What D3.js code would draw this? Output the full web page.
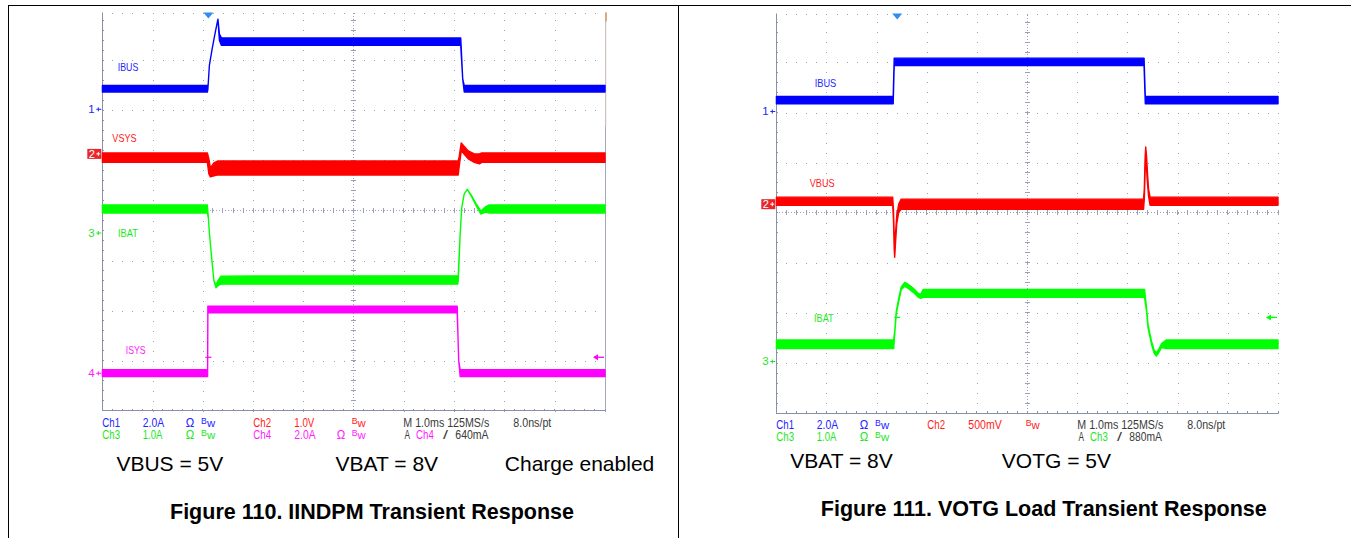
<!DOCTYPE html>
<html><head><meta charset="utf-8">
<script src="https://cdn.jsdelivr.net/npm/d3@7"></script>
<style>html,body{margin:0;padding:0;background:#fff;}svg{display:block;font-family:"Liberation Sans",Arial,Helvetica,sans-serif;}</style>
</head><body>
<svg id="c" width="1351" height="538"></svg>
<script>
// ================= DATA =================
// time axis: 10 divisions of 1.0 ms; each trace point = [time ms, envelope min, envelope max]
const timeDomain = [0, 10];

// ---- Figure 110: IINDPM transient response ----
const f110_ibus = [[0,0.69,0.95],[2.09,0.69,0.95],[2.10,0.80,0.80],[2.13,1.75,1.75],[2.18,2.35,2.35],[2.24,3.00,3.00],[2.30,3.60,3.60],[2.33,2.75,3.00],[2.37,2.55,2.85],[7.13,2.55,2.85],[7.17,1.20,1.20],[7.20,0.69,0.95],[10,0.69,0.95]];
const f110_vsys = [[0,-0.17,0.02],[2.09,-0.17,0.02],[2.12,-0.40,-0.10],[2.15,-0.46,-0.28],[2.22,-0.44,-0.18],[2.30,-0.42,-0.14],[7.08,-0.42,-0.14],[7.10,-0.25,-0.05],[7.14,0.06,0.22],[7.28,-0.10,0.06],[7.40,-0.17,0.00],[7.50,-0.20,0.00],[7.55,-0.17,0.02],[10,-0.17,0.02]];
const f110_ibat = [[0,0.40,0.56],[2.09,0.40,0.56],[2.11,0.30,0.30],[2.13,0.00,0.00],[2.18,-0.54,-0.54],[2.22,-0.95,-0.95],[2.26,-1.09,-1.04],[2.30,-1.05,-0.95],[2.36,-1.02,-0.86],[7.07,-1.02,-0.85],[7.08,-0.95,-0.85],[7.12,0.00,0.00],[7.15,0.50,0.50],[7.20,0.78,0.78],[7.26,0.87,0.87],[7.35,0.72,0.74],[7.45,0.52,0.56],[7.53,0.38,0.44],[7.62,0.42,0.52],[7.70,0.40,0.56],[10,0.40,0.56]];
const f110_isys = [[0,-0.13,0.14],[2.095,-0.13,0.14],[2.10,2.42,2.68],[7.06,2.42,2.68],[7.075,1.50,1.50],[7.09,0.50,0.50],[7.12,-0.13,0.14],[10,-0.13,0.14]];
const f110_labels = ["IBUS","VSYS","IBAT","ISYS"];
const f110_scaleText = ["2.0A","1.0V","1.0A","2.0A"];
const f110_perDiv = [2, 1, 1, 2];
const f110_markerDiv = [2.02, 1.13, -0.45, -3.25];
const f110_trigger = {time: 2.11, channel: 4, level: 0.64, text: "640mA"};
const f110_conditions = ["VBUS = 5V", "VBAT = 8V", "Charge enabled"];
const f110_title = "Figure 110. IINDPM Transient Response";

// ---- Figure 111: VOTG load transient response ----
const f111_ibus = [[0,0.31,0.60],[2.33,0.31,0.60],[2.35,1.83,2.13],[7.33,1.83,2.13],[7.355,0.31,0.60],[10,0.31,0.60]];
const f111_vbus = [[0,-0.01,0.07],[2.32,-0.01,0.07],[2.335,-0.15,-0.05],[2.35,-0.45,-0.30],[2.36,-0.53,-0.45],[2.375,-0.40,-0.30],[2.40,-0.20,-0.12],[2.44,-0.08,0.00],[2.49,-0.05,0.05],[7.32,-0.05,0.05],[7.335,0.05,0.15],[7.35,0.30,0.45],[7.363,0.50,0.57],[7.38,0.35,0.48],[7.40,0.20,0.30],[7.42,0.08,0.15],[7.45,-0.01,0.07],[10,-0.01,0.07]];
const f111_ibat = [[0,0.26,0.43],[2.34,0.26,0.43],[2.36,0.55,0.60],[2.39,0.94,0.99],[2.44,1.20,1.26],[2.49,1.43,1.49],[2.56,1.50,1.58],[2.63,1.46,1.54],[2.73,1.38,1.46],[2.83,1.28,1.36],[2.88,1.26,1.34],[2.93,1.28,1.44],[7.34,1.28,1.44],[7.38,1.00,1.06],[7.41,0.67,0.73],[7.48,0.34,0.40],[7.53,0.17,0.23],[7.575,0.11,0.17],[7.62,0.17,0.24],[7.68,0.28,0.36],[7.77,0.26,0.43],[10,0.26,0.43]];
const f111_labels = ["IBUS","VBUS","IBAT"];
const f111_scaleText = ["2.0A","500mV","1.0A"];
const f111_perDiv = [2, 0.5, 1];
const f111_markerDiv = [2.02, 0.17, -2.97];
const f111_trigger = {time: 2.41, channel: 3, level: 0.88, text: "880mA"};
const f111_conditions = ["VBAT = 8V", "VOTG = 5V"];
const f111_title = "Figure 111. VOTG Load Transient Response";

const timebaseText = "M 1.0ms 125MS/s";
const resolutionText = "8.0ns/pt";

// ================= STYLE / LAYOUT =================
const TRACE = {1:"#0000ff", 2:"#ff0000", 3:"#00ff00", 4:"#ff00ff"};
const TXT = {1:"#2424ff", 2:"#ff1c1c", 3:"#1ee61e", 4:"#ff1cff", 0:"#3a3a3a"};
const GRID = "#9aa0b8";
const COL = {ch:0, scale:40.5, ohm:83.5, bw:98.8, chB:151, scaleB:192, ohmB:234.4, bwB:249.5, time:301, res:411, trigA:302.2, trigCh:313.8, slope:340.8, trigVal:353};
const TW = {"Ch":17.7, "2.0A":21.3, "1.0A":19.7, "1.0V":20, "500mV":33.4, "Ω":8.5, "Bw":14, "A":5.5, "/":5, "640mA":33.3, "880mA":32.6};
TW[timebaseText] = 86; TW[resolutionText] = 38;

const scopes = [
  { L:{x0:102.3, x1:605, cy:210.5, py:50.1, clipTop:12.5, rowY:[426.7,438.7], solidRight:true},
    data:[f110_ibus,f110_vsys,f110_ibat,f110_isys], labels:f110_labels, scaleText:f110_scaleText,
    perDiv:f110_perDiv, markerDiv:f110_markerDiv, trig:f110_trigger,
    labelPos:[[117.7,71,20.6],[112.3,141.7,24.4],[118,237,20],[125.7,354.3,20]],
    cond:f110_conditions, condX:[116.4,335.6,504.8], condY:471, title:f110_title, titleX:170, titleY:519, titleW:404 },
  { L:{x0:776.3, x1:1278, cy:212.7, py:50.1, clipTop:13.5, rowY:[428.7,440.7], solidRight:false},
    data:[f111_ibus,f111_vbus,f111_ibat], labels:f111_labels, scaleText:f111_scaleText,
    perDiv:f111_perDiv, markerDiv:f111_markerDiv, trig:f111_trigger,
    labelPos:[[814.7,87.3,21.6],[809.7,186.7,25],[814,322.3,19.7]],
    cond:f111_conditions, condX:[790.2,1001.8], condY:468, title:f111_title, titleX:820.8, titleY:516, titleW:446 }
];

const svg = d3.select("#c");
const defs = svg.append("defs");

// frame lines of the datasheet table
const frame = svg.append("g").attr("stroke","#000").attr("stroke-width",1).attr("shape-rendering","crispEdges");
frame.append("line").attr("x1",8).attr("x2",1351).attr("y1",5.5).attr("y2",5.5);
frame.append("line").attr("x1",8.5).attr("x2",8.5).attr("y1",5).attr("y2",538);
frame.append("line").attr("x1",678.5).attr("x2",678.5).attr("y1",5).attr("y2",538);

function scopeText(g, str, x, y, color, size, width){
  const t = g.append("text").attr("x",x).attr("y",y).attr("fill",color).attr("font-size",size).text(str);
  if(width) t.attr("textLength",width).attr("lengthAdjust","spacingAndGlyphs");
  return t;
}
function bwText(g, x, y, color){
  const t = g.append("text").attr("x",x).attr("y",y).attr("fill",color)
    .attr("textLength",TW["Bw"]).attr("lengthAdjust","spacingAndGlyphs");
  t.append("tspan").attr("font-size",8.5).attr("dy",-3).text("B");
  t.append("tspan").attr("font-size",11).attr("dy",3).text("w");
}

scopes.forEach((S, si) => {
  const L = S.L;
  const g = svg.append("g");
  const top = L.cy - 4*L.py, bottom = L.cy + 4*L.py;
  const xs = d3.scaleLinear().domain(timeDomain).range([L.x0, L.x1]);
  const xd = d3.scaleLinear().domain([0,10]).range([L.x0, L.x1]);
  const yd = d3.scaleLinear().domain([-4,4]).range([bottom, top]);
  const clipId = "clip"+si;
  defs.append("clipPath").attr("id",clipId).append("rect")
    .attr("x",L.x0-1).attr("y",L.clipTop).attr("width",L.x1-L.x0+3).attr("height",bottom-L.clipTop+1);
  const grat = g.append("g").attr("clip-path",`url(#${clipId})`).attr("shape-rendering","crispEdges");
  const minors = d3.range(0, 51).map(i => i*0.2);
  const minorsY = d3.range(0, 41).map(i => -4 + i*0.2);
  const dots = [];
  d3.range(1, 11).filter(i => i !== 5).forEach(i => minorsY.forEach(v => dots.push([xd(i), yd(v)])));
  d3.range(-3, 5).filter(k => k !== 0).forEach(k => minors.forEach(u => dots.push([xd(u), yd(k)])));
  minors.forEach(u => dots.push([xd(u), L.clipTop + 0.5]));
  grat.selectAll("rect.dot").data(dots).join("rect").attr("class","dot")
    .attr("x", d => Math.round(d[0]) - 0.5).attr("y", d => Math.round(d[1]) - 0.5)
    .attr("width",1.2).attr("height",1.2).attr("fill",GRID);
  grat.append("line").attr("x1",L.x0).attr("x2",L.x1).attr("y1",yd(0)).attr("y2",yd(0))
    .attr("stroke",GRID).attr("stroke-dasharray","1,2");
  grat.append("line").attr("x1",xd(5)).attr("x2",xd(5)).attr("y1",top).attr("y2",bottom)
    .attr("stroke",GRID).attr("stroke-dasharray","1,2");
  grat.selectAll("line.tx").data(minors).join("line").attr("class","tx")
    .attr("x1",d=>xd(d)).attr("x2",d=>xd(d)).attr("y1",yd(0)-2.5).attr("y2",yd(0)+2.5).attr("stroke",GRID);
  grat.selectAll("line.ty").data(minorsY).join("line").attr("class","ty")
    .attr("y1",d=>yd(d)).attr("y2",d=>yd(d)).attr("x1",xd(5)-2.5).attr("x2",xd(5)+2.5).attr("stroke",GRID);
  grat.append("line").attr("x1",L.x0).attr("x2",L.x0).attr("y1",top).attr("y2",bottom).attr("stroke","#8a90aa");
  grat.append("line").attr("x1",L.x0).attr("x2",L.x1).attr("y1",bottom).attr("y2",bottom).attr("stroke","#8a90aa");
  if (L.solidRight) grat.append("line").attr("x1",L.x1).attr("x2",L.x1).attr("y1",top).attr("y2",bottom).attr("stroke","#a4a8bc");
  grat.selectAll("line.bt").data(minors).join("line").attr("class","bt")
    .attr("x1",d=>xd(d)).attr("x2",d=>xd(d)).attr("y1",bottom-2).attr("y2",bottom).attr("stroke","#8a90aa");
  grat.selectAll("line.lt").data(minorsY).join("line").attr("class","lt")
    .attr("y1",d=>yd(d)).attr("y2",d=>yd(d)).attr("x1",L.x0).attr("x2",L.x0+2).attr("stroke","#8a90aa");
  if (L.solidRight) {
    g.append("rect").attr("x",L.x1).attr("y",L.clipTop).attr("width",2).attr("height",9).attr("fill","#d9a884");
    g.append("rect").attr("x",L.x1+0.5).attr("y",L.clipTop+9).attr("width",1).attr("height",105).attr("fill","#f0e0d4");
  }

  const traces = g.append("g").attr("clip-path",`url(#${clipId})`);
  const yScales = S.data.map((d, i) => {
    const m = S.markerDiv[i], p = S.perDiv[i];
    return d3.scaleLinear().domain([(-4 - m)*p, (4 - m)*p]).range([bottom, top]);
  });
  S.data.forEach((d, i) => {
    const ys = yScales[i];
    const area = d3.area().x(p => xs(p[0])).y0(p => ys(p[1])).y1(p => ys(p[2]));
    traces.append("path").attr("d", area(d)).attr("fill",TRACE[i+1]).attr("stroke",TRACE[i+1])
      .attr("stroke-width",1.4).attr("stroke-linejoin","round");
  });

  S.labels.forEach((lab, i) => {
    const p = S.labelPos[i];
    scopeText(g, lab, p[0], p[1], TXT[i+1], 11.5, p[2]);
  });

  S.markerDiv.forEach((m, i) => {
    const y = yd(m), c = TXT[i+1], ch = i+1;
    if (ch === 2) {
      g.append("rect").attr("x",L.x0-15).attr("y",y-5).attr("width",14).attr("height",10).attr("fill","#e8262c");
      scopeText(g, "2", L.x0-13.5, y+4, "#fff", 11);
      g.append("line").attr("x1",L.x0-6).attr("x2",L.x0-2).attr("y1",y).attr("y2",y).attr("stroke","#fff");
      g.append("line").attr("x1",L.x0-4).attr("x2",L.x0-4).attr("y1",y-2).attr("y2",y+2).attr("stroke","#fff");
    } else {
      scopeText(g, String(ch), L.x0-14, y+4, c, 11.5);
      g.append("line").attr("x1",L.x0-6).attr("x2",L.x0-1).attr("y1",y).attr("y2",y).attr("stroke",c);
      g.append("line").attr("x1",L.x0-4).attr("x2",L.x0-4).attr("y1",y-2).attr("y2",y+2).attr("stroke",c);
    }
  });

  const tx = xs(S.trig.time);
  g.append("path").attr("d",`M${tx-5},${L.clipTop} L${tx+5},${L.clipTop} L${tx},${L.clipTop+6} Z`).attr("fill","#2f8df2");
  const ti = S.trig.channel - 1;
  const ty = yScales[ti](S.trig.level);
  const tc = TRACE[S.trig.channel];
  g.append("line").attr("x1",tx-3).attr("x2",tx+3).attr("y1",ty).attr("y2",ty).attr("stroke",tc).attr("stroke-width",1.2);
  g.append("line").attr("x1",L.x1-11).attr("x2",L.x1-1).attr("y1",ty).attr("y2",ty).attr("stroke",tc).attr("stroke-width",1.3);
  g.append("path").attr("d",`M${L.x1-12},${ty} L${L.x1-7},${ty-3} L${L.x1-7},${ty+3} Z`).attr("fill",tc);

  const r1 = L.rowY[0], r2 = L.rowY[1], x0 = L.x0, FS = 12.5;
  const chRows = [[1,2],[3,4]];
  chRows.forEach((pair, ri) => {
    const y = L.rowY[ri];
    pair.forEach((ch, k) => {
      if (ch > S.data.length) return;
      const cx = x0 + (k === 0 ? COL.ch : COL.chB);
      const sx = x0 + (k === 0 ? COL.scale : COL.scaleB);
      const ox = x0 + (k === 0 ? COL.ohm : COL.ohmB);
      const bx = x0 + (k === 0 ? COL.bw : COL.bwB);
      const txt = S.scaleText[ch-1];
      scopeText(g, "Ch"+ch, cx, y, TXT[ch], FS, TW["Ch"]);
      scopeText(g, txt, sx, y, TXT[ch], FS, TW[txt]);
      if (txt.endsWith("A")) scopeText(g, "Ω", ox, y, TXT[ch], FS, TW["Ω"]);
      bwText(g, bx, y, TXT[ch]);
    });
  });
  scopeText(g, timebaseText, x0+COL.time, r1, TXT[0], FS, TW[timebaseText]);
  scopeText(g, resolutionText, x0+COL.res, r1, TXT[0], FS, TW[resolutionText]);
  scopeText(g, "A", x0+COL.trigA, r2, TXT[0], FS, TW["A"]);
  scopeText(g, "Ch"+S.trig.channel, x0+COL.trigCh, r2, TXT[S.trig.channel], FS, TW["Ch"]);
  scopeText(g, "/", x0+COL.slope, r2, TXT[0], FS, TW["/"]);
  scopeText(g, S.trig.text, x0+COL.trigVal, r2, TXT[0], FS, TW[S.trig.text]);

  S.cond.forEach((c, i) => {
    g.append("text").attr("x",S.condX[i]).attr("y",S.condY).attr("font-size",21).attr("fill","#000").text(c);
  });
  g.append("text").attr("x",S.titleX).attr("y",S.titleY).attr("font-size",21.5).attr("font-weight","bold").attr("fill","#000")
    .attr("textLength",S.titleW).attr("lengthAdjust","spacingAndGlyphs").text(S.title);
});
</script>
</body></html>
